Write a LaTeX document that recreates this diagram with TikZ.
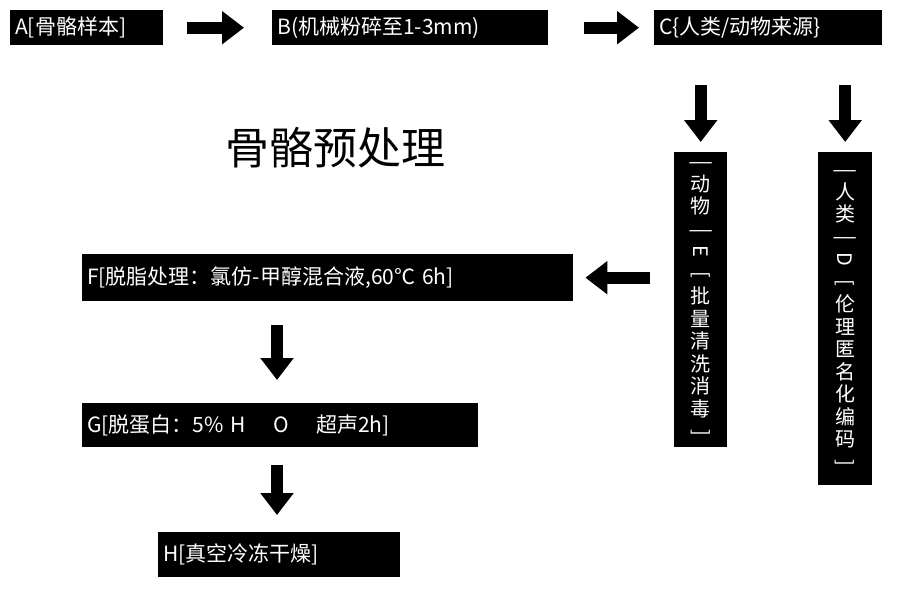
\documentclass[tikz,border=0pt]{standalone}
\usepackage{fontspec}
\setmainfont{Noto Sans CJK SC}
\usetikzlibrary{arrows.meta}
\newcommand{\rl}[1]{\rotatebox[origin=c]{-90}{#1}}
\begin{document}
\begin{tikzpicture}[x=1pt,y=-1pt,
  box/.style={fill=black,text=white,font=\fontsize{21}{24}\selectfont,inner sep=0pt,anchor=north west,align=left,text width=#1,inner xsep=5pt},
  vbox/.style={fill=black,text=white,font=\fontsize{20}{22.5}\selectfont,inner sep=0pt,anchor=north west,align=center},
  blk/.style={line width=12pt,-{Triangle[width=32pt,length=22pt]}}]
\useasboundingbox (0,0) rectangle (901,611);
\node[box=143pt,minimum height=35] (a) at (10,10) {A[骨骼样本]};
\node[box=266pt,minimum height=35] (b) at (272,10) {B(机械粉碎至1-3mm)};
\node[box=218pt,minimum height=35] (c) at (654,10) {C\{人类/动物来源\}};
\node[vbox,minimum width=53,minimum height=295] (e) at (674,152) {\rl{|}\\动\\物\\\rl{|}\\\rl{E}\\\rl{[}\\批\\量\\清\\洗\\消\\毒\\\rl{]}};
\node[vbox,minimum width=54,minimum height=333] (d) at (818,152) {\rl{|}\\人\\类\\\rl{|}\\\rl{D}\\\rl{[}\\伦\\理\\匿\\名\\化\\编\\码\\\rl{]}};
\node[box=481pt,minimum height=47] (f) at (82,254) {F[脱脂处理：氯仿-甲醇混合液,60℃ 6h]};
\node[box=386pt,minimum height=44] (g) at (82,403) {G[脱蛋白：5\% H\hspace{1.3em}O\hspace{1.3em}超声2h]};
\node[box=232pt,minimum height=45] (h) at (158,532) {H[真空冷冻干燥]};
\node[font=\fontsize{44}{46}\selectfont] (t) at (335,148) {骨骼预处理};
\draw[blk,shorten <=24pt,shorten >=28pt] (a.east) -- (b.west);
\draw[blk,shorten <=36pt,shorten >=15pt] (b.east) -- (c.west);
\draw[blk,shorten <=40pt,shorten >=10pt] (c.south -| e.north) -- (e.north);
\draw[blk,shorten <=40pt,shorten >=10pt] (c.south -| d.north) -- (d.north);
\draw[blk,shorten <=24pt,shorten >=12pt] (e.west |- f.east) -- (f.east);
\draw[blk,shorten <=24pt,shorten >=23pt] (f.south -| 277,0) -- (g.north -| 277,0);
\draw[blk,shorten <=18pt,shorten >=17pt] (g.south -| 277,0) -- (h.north -| 277,0);
\end{tikzpicture}
\end{document}
